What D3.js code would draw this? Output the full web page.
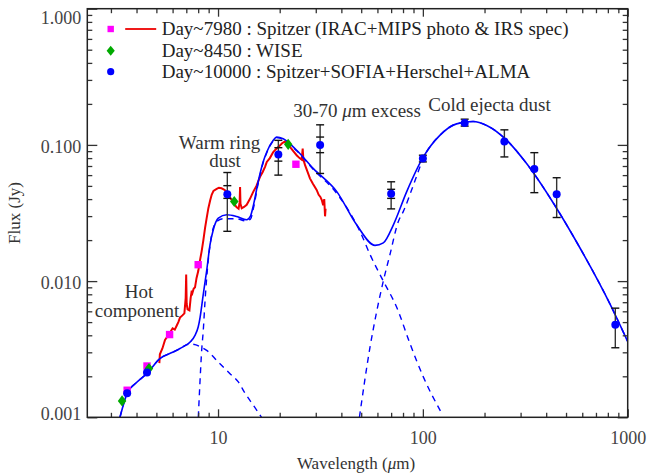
<!DOCTYPE html>
<html>
<head>
<meta charset="utf-8">
<script src="https://cdn.jsdelivr.net/npm/d3@7"></script>
<style>
    body { margin: 0; background: #fff; }
    text { font-family: "Liberation Serif", "Times New Roman", serif; }
</style>
</head>
<body>
<div id="chart"></div>
<script>
// Day~7980 Spitzer IRAC + MIPS photometry
const iracWave = [3.6, 4.5, 5.8, 8.0, 24];
const iracFlux = [0.00158, 0.00238, 0.00405, 0.0132, 0.0721];

// Day~8450 WISE
const wiseWave = [3.4, 4.6, 12, 22];
const wiseFlux = [0.00132, 0.00228, 0.0384, 0.101];

// Day~10000 Spitzer + SOFIA + Herschel + ALMA
const lateWave = [3.6, 4.5, 11.1, 19.7, 31.5, 70, 100, 160, 250, 350, 450, 870];
const lateFlux = [0.0015, 0.00213, 0.0434, 0.0849, 0.100, 0.0437, 0.0793, 0.145, 0.106, 0.0664, 0.0434, 0.00479];
const lateErrLo = [null, null, 0.0232, 0.060, 0.0617, 0.0339, 0.075, 0.1374, 0.0816, 0.0446, 0.0293, 0.00324];
const lateErrHi = [null, null, 0.0627, 0.108, 0.1404, 0.0536, 0.084, 0.1545, 0.129, 0.0877, 0.0574, 0.00633];
const lateInnerLo = [null, null, 0.0405, 0.076, 0.0877, 0.0405, null, null, null, null, null, null];
const lateInnerHi = [null, null, 0.0502, 0.0954, 0.1142, 0.0472, null, null, null, null, null, null];

// IRS spectrum (day~7980)
const irsWave = [5.17, 5.2, 5.35, 5.51, 5.65, 5.83, 6.0, 6.15, 6.28, 6.4, 6.52, 6.7, 6.85, 6.95, 6.99, 7.03, 7.1,
    7.25, 7.35, 7.44, 7.5, 7.6, 7.72, 7.85, 8.01, 8.15, 8.32, 8.48, 8.64, 8.8, 8.97, 9.15, 9.31, 9.5, 9.85, 10.1,
    10.4, 10.7, 11.03, 11.3, 11.66, 12.0, 12.3, 12.6, 12.75, 12.81, 12.87, 13.05, 13.4, 13.8, 14.3, 14.87, 15.4,
    16.03, 16.5, 16.96, 17.3, 17.9, 18.6, 19.3, 20.1, 20.6, 21.2, 21.8, 22.5, 23.3, 24.2, 25.0, 25.6, 25.9, 26.1,
    26.6, 27.3, 28.1, 29.0, 30.3, 31.0, 31.6, 32.1, 32.6, 33.0, 33.3, 33.5];
const irsFlux = [0.0025, 0.0029, 0.0032, 0.0037, 0.0039, 0.0042, 0.0045, 0.0044, 0.0047, 0.005, 0.0054, 0.0056,
    0.0058, 0.0075, 0.0112, 0.0068, 0.0062, 0.0061, 0.0075, 0.0085, 0.0082, 0.0088, 0.0090, 0.0105, 0.0119, 0.0140,
    0.0166, 0.020, 0.0245, 0.029, 0.0343, 0.039, 0.043, 0.046, 0.0475, 0.0485, 0.048, 0.047, 0.0454, 0.042, 0.0394,
    0.037, 0.035, 0.034, 0.038, 0.049, 0.037, 0.0343, 0.035, 0.0363, 0.040, 0.0454, 0.050, 0.0583, 0.063, 0.069,
    0.075, 0.080, 0.0887, 0.094, 0.0993, 0.103, 0.106, 0.101, 0.0963, 0.090, 0.084, 0.080, 0.078, 0.0938, 0.078,
    0.071, 0.064, 0.0568, 0.052, 0.0467, 0.043, 0.0415, 0.0394, 0.036, 0.040, 0.0299, 0.034];

// total model
const modelWave = [3.32, 3.6, 4.0, 4.5, 5.2, 6.0, 6.52, 7.0, 7.35, 7.72, 8.0, 8.17, 8.47, 8.8, 9.14, 9.48, 10.03,
    11.03, 12.33, 13.8, 14.4, 14.9, 15.7, 16.6, 17.3, 18.6, 19.3, 20.8, 24.2, 29.2, 38, 47.5, 58.4, 64.1, 71.8,
    83.4, 100.5, 121, 146, 176, 205, 257, 321, 434, 585, 820, 1000];
const modelFlux = [0.001, 0.0015, 0.0018, 0.0021, 0.0027, 0.0030, 0.0032, 0.0034, 0.0036, 0.0040, 0.0046, 0.0054,
    0.008, 0.0119, 0.0185, 0.0238, 0.029, 0.0307, 0.0298, 0.0282, 0.030, 0.0363, 0.0536, 0.075, 0.0887, 0.108,
    0.114, 0.111, 0.0913, 0.067, 0.0454, 0.0259, 0.0183, 0.0191, 0.0259, 0.0454, 0.0816, 0.1175, 0.1427, 0.1486,
    0.139, 0.108, 0.0729, 0.0373, 0.0175, 0.00678, 0.0036];

// components
const hotWave = [3.32, 3.6, 4.0, 4.5, 5.2, 6.0, 6.52, 7.0, 7.35, 7.72, 8.17, 8.8, 10.03, 11.44, 12.56, 13.55, 14.86, 16.3];
const hotFlux = [0.001, 0.0015, 0.0018, 0.0021, 0.0027, 0.0030, 0.0032, 0.0034, 0.00345, 0.00342, 0.0033, 0.0031,
    0.00254, 0.00209, 0.00182, 0.0015, 0.00123, 0.001];
const warmWave = [8.01, 8.17, 8.32, 8.47, 8.64, 9.31, 9.85, 10.6, 12.3, 13.6, 14.4, 14.9, 15.7, 16.6, 17.3, 18.6,
    19.3, 20.8, 24.2, 29.2, 38, 49.3, 55.2, 64.1, 74.6, 86.6, 100.5, 123.6];
const warmFlux = [0.001, 0.00187, 0.0031, 0.00433, 0.00716, 0.0219, 0.0274, 0.0287, 0.0287, 0.0277, 0.0285, 0.0345,
    0.052, 0.074, 0.0877, 0.107, 0.113, 0.110, 0.0905, 0.066, 0.044, 0.0232, 0.01568, 0.01, 0.0064, 0.00346,
    0.00198, 0.00107];
const coldWave = [49, 55.2, 59.6, 64.1, 69.1, 75.9, 80.3, 89.9, 100.5, 121, 146, 176, 205, 257, 321, 434, 585, 820, 1000];
const coldFlux = [0.001, 0.00327, 0.00605, 0.01, 0.0157, 0.0274, 0.0325, 0.0507, 0.0796, 0.1175, 0.1427, 0.1486,
    0.139, 0.108, 0.0729, 0.0373, 0.0175, 0.00678, 0.0036];

// ticks
const xMajor = [10, 100, 1000];
const xMinor = [3, 4, 5, 6, 7, 8, 9, 20, 30, 40, 50, 60, 70, 80, 90, 200, 300, 400, 500, 600, 700, 800, 900];
const yMajor = [0.001, 0.01, 0.1, 1];
const yMinor = [0.002, 0.003, 0.004, 0.005, 0.006, 0.007, 0.008, 0.009, 0.02, 0.03, 0.04, 0.05, 0.06, 0.07, 0.08,
    0.09, 0.2, 0.3, 0.4, 0.5, 0.6, 0.7, 0.8, 0.9];

const legendLabels = [
    'Day~7980 : Spitzer (IRAC+MIPS photo & IRS spec)',
    'Day~8450 : WISE',
    'Day~10000 : Spitzer+SOFIA+Herschel+ALMA'
];

function draw() {
    let dimensions = {
        width: 662,
        height: 474,
        margin: { top: 8.7, bottom: 56.7, left: 87.3, right: 34.3 }
    };
    dimensions.ctrWidth = dimensions.width - dimensions.margin.left - dimensions.margin.right;
    dimensions.ctrHeight = dimensions.height - dimensions.margin.top - dimensions.margin.bottom;

    const xScale = d3.scaleLog().domain([2.3, 1000]).range([0, dimensions.ctrWidth]);
    const yScale = d3.scaleLog().domain([0.001, 1]).range([dimensions.ctrHeight, 0]);

    const svg = d3.select('#chart')
        .append('svg')
        .attr('width', dimensions.width)
        .attr('height', dimensions.height);

    const ctr = svg.append('g')
        .attr('transform', `translate(${dimensions.margin.left},${dimensions.margin.top})`);

    svg.append('defs').append('clipPath').attr('id', 'clip')
        .append('rect')
        .attr('width', dimensions.ctrWidth)
        .attr('height', dimensions.ctrHeight);

    const plot = ctr.append('g').attr('clip-path', 'url(#clip)');

    const line = d3.line()
        .x(d => xScale(d[0]))
        .y(d => yScale(d[1]));
    const zip = (a, b) => a.map((v, i) => [v, b[i]]);

    // IRS spectrum
    plot.append('path')
        .attr('d', line.curve(d3.curveLinear)(zip(irsWave, irsFlux)))
        .attr('fill', 'none')
        .attr('stroke', '#ee0000')
        .attr('stroke-width', 2);

    // model
    const smooth = d3.line().x(d => xScale(d[0])).y(d => yScale(d[1])).curve(d3.curveMonotoneX);
    [[hotWave, hotFlux], [warmWave, warmFlux], [coldWave, coldFlux]].forEach(([w, f]) => {
        plot.append('path')
            .attr('d', smooth(zip(w, f)))
            .attr('fill', 'none')
            .attr('stroke', '#0000ff')
            .attr('stroke-width', 1.4)
            .attr('stroke-dasharray', '6,5');
    });
    plot.append('path')
        .attr('d', smooth(zip(modelWave, modelFlux)))
        .attr('fill', 'none')
        .attr('stroke', '#0000ff')
        .attr('stroke-width', 1.6);

    // error bars
    const late = lateWave.map((w, i) => ({
        w, f: lateFlux[i], lo: lateErrLo[i], hi: lateErrHi[i], ilo: lateInnerLo[i], ihi: lateInnerHi[i]
    }));
    const bars = ctr.append('g');
    late.filter(d => d.lo !== null).forEach(d => {
        const x = xScale(d.w);
        bars.append('line')
            .attr('x1', x).attr('x2', x)
            .attr('y1', yScale(d.lo)).attr('y2', yScale(d.hi))
            .attr('stroke', '#333').attr('stroke-width', 1.4);
        const caps = [d.lo, d.hi, d.ilo, d.ihi].filter(v => v !== null);
        caps.forEach(v => {
            bars.append('line')
                .attr('x1', x - 4).attr('x2', x + 4)
                .attr('y1', yScale(v)).attr('y2', yScale(v))
                .attr('stroke', '#111').attr('stroke-width', 1.4);
        });
    });

    // markers
    const diamond = d3.symbol().type(d3.symbolDiamond).size(40);
    ctr.append('g').selectAll('rect')
        .data(zip(iracWave, iracFlux))
        .join('rect')
        .attr('x', d => xScale(d[0]) - 3.7)
        .attr('y', d => yScale(d[1]) - 3.7)
        .attr('width', 7.4).attr('height', 7.4)
        .attr('fill', '#ff00ff');

    ctr.append('g').selectAll('path')
        .data(zip(wiseWave, wiseFlux))
        .join('path')
        .attr('d', diamond)
        .attr('transform', d => `translate(${xScale(d[0])},${yScale(d[1])}) scale(1.25,0.95)`)
        .attr('fill', '#00aa00');

    ctr.append('g').selectAll('circle')
        .data(late)
        .join('circle')
        .attr('cx', d => xScale(d.w))
        .attr('cy', d => yScale(d.f))
        .attr('r', 4)
        .attr('fill', '#0000ff');

    // axes
    const axisColor = '#333';
    const styleAxis = g => {
        g.select('.domain').remove();
        g.selectAll('line').attr('stroke', axisColor).attr('stroke-width', 1.3);
        g.selectAll('text').attr('fill', '#444').style('font-size', '18px')
            .style('font-family', '"Liberation Serif", serif');
    };

    ctr.append('g')
        .attr('transform', `translate(0,${dimensions.ctrHeight})`)
        .call(d3.axisBottom(xScale).tickValues(xMajor).tickSize(-8).tickPadding(14).tickFormat(d3.format('d')))
        .call(styleAxis);
    ctr.append('g')
        .attr('transform', `translate(0,${dimensions.ctrHeight})`)
        .call(d3.axisBottom(xScale).tickValues(xMinor).tickSize(-4.5).tickFormat(''))
        .call(styleAxis);
    ctr.append('g')
        .call(d3.axisTop(xScale).tickValues(xMajor).tickSize(-8).tickFormat(''))
        .call(styleAxis);
    ctr.append('g')
        .call(d3.axisTop(xScale).tickValues(xMinor).tickSize(-4.5).tickFormat(''))
        .call(styleAxis);

    const yAxisGroup = ctr.append('g')
        .call(d3.axisLeft(yScale).tickValues(yMajor).tickSize(-10).tickPadding(6).tickFormat(d3.format('.3f')))
        .call(styleAxis);
    // IDL keeps end labels inside the frame
    yAxisGroup.selectAll('.tick text')
        .attr('y', d => {
            const pos = yScale(d);
            const shifted = Math.min(Math.max(pos, 8), dimensions.ctrHeight - 5);
            return shifted - pos + 1.5;
        })
        .attr('dy', '0.32em');
    ctr.append('g')
        .call(d3.axisLeft(yScale).tickValues(yMinor).tickSize(-5).tickFormat(''))
        .call(styleAxis);
    ctr.append('g')
        .attr('transform', `translate(${dimensions.ctrWidth},0)`)
        .call(d3.axisRight(yScale).tickValues(yMajor).tickSize(-10).tickFormat(''))
        .call(styleAxis);
    ctr.append('g')
        .attr('transform', `translate(${dimensions.ctrWidth},0)`)
        .call(d3.axisRight(yScale).tickValues(yMinor).tickSize(-5).tickFormat(''))
        .call(styleAxis);

    ctr.append('rect')
        .attr('width', dimensions.ctrWidth)
        .attr('height', dimensions.ctrHeight)
        .attr('fill', 'none')
        .attr('stroke', '#222')
        .attr('stroke-width', 1.5);

    // axis titles
    const xTitle = svg.append('text')
        .attr('x', 356)
        .attr('y', 469)
        .attr('text-anchor', 'middle')
        .attr('fill', '#333')
        .style('font-size', '17px');
    xTitle.append('tspan').text('Wavelength (');
    xTitle.append('tspan').style('font-style', 'italic').text('\u03bc');
    xTitle.append('tspan').text('m)');

    svg.append('text')
        .attr('transform', 'translate(20,213) rotate(-90)')
        .attr('text-anchor', 'middle')
        .attr('fill', '#333')
        .style('font-size', '17px')
        .text('Flux (Jy)');

    // legend
    const legend = svg.append('g').attr('transform', 'translate(110.7,0)');
    const rowY = [29, 50.7, 71.7];
    legend.append('rect')
        .attr('x', -3.2).attr('y', rowY[0] - 3.2)
        .attr('width', 6.4).attr('height', 6.4)
        .attr('fill', '#ff00ff');
    legend.append('line')
        .attr('x1', 14.5).attr('x2', 45.5)
        .attr('y1', rowY[0]).attr('y2', rowY[0])
        .attr('stroke', '#ee0000').attr('stroke-width', 1.8);
    legend.append('path')
        .attr('d', diamond)
        .attr('transform', `translate(0,${rowY[1]}) scale(1.2,0.85)`)
        .attr('fill', '#00aa00');
    legend.append('circle')
        .attr('cy', rowY[2]).attr('r', 3.6)
        .attr('fill', '#0000ff');
    legend.selectAll('text.lbl')
        .data(legendLabels)
        .join('text')
        .attr('class', 'lbl')
        .attr('x', 51)
        .attr('y', (d, i) => rowY[i] + 6)
        .attr('fill', '#222')
        .style('font-size', '19px')
        .text(d => d);

    // annotations
    const note = (x, y, str) => svg.append('text')
        .attr('x', x).attr('y', y)
        .attr('text-anchor', 'middle')
        .attr('fill', '#333')
        .style('font-size', '19px')
        .text(str);
    note(139, 297.5, 'Hot');
    note(137, 316.5, 'component');
    note(219.5, 148.5, 'Warm ring');
    note(225, 166.5, 'dust');
    note(489.5, 110.5, 'Cold ejecta dust');

    const excess = svg.append('text')
        .attr('x', 357).attr('y', 117)
        .attr('text-anchor', 'middle')
        .attr('fill', '#333')
        .style('font-size', '19px');
    excess.append('tspan').text('30-70 ');
    excess.append('tspan').style('font-style', 'italic').text('\u03bc');
    excess.append('tspan').text('m excess');
}

draw();
</script>
</body>
</html>
